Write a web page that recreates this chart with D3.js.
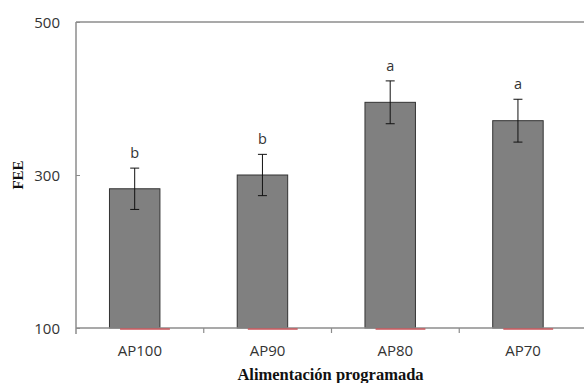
<!DOCTYPE html>
<html>
<head>
<meta charset="utf-8">
<script src="https://cdn.jsdelivr.net/npm/d3@7"></script>
<style>
  body { margin: 0; background: #fff; }
  svg { display: block; }
</style>
</head>
<body>
<div id="chart"></div>
<script>
// values
const categories = ['AP100', 'AP90', 'AP80', 'AP70'];
const fee = [282, 300, 395, 371];
const feeErr = [27, 27, 28, 28];
const letters = ['b', 'b', 'a', 'a'];
const secondSeries = [100, 100, 100, 100]; // flat red series sitting on the baseline
const yTicks = [100, 300, 500];

const state = {
    width: 584,
    height: 383,
    left: 76,
    right: 587,
    top: 22,
    bottom: 328,
    barColor: '#808080',
    edgeColor: '#333333',
    axisColor: '#8c8c8c',
    redColor: '#c8545a'
};

const svg = d3.select('#chart')
    .append('svg')
        .attr('width', state.width)
        .attr('height', state.height);

let x = d3.scaleBand()
    .domain(categories)
    .range([state.left, state.right])
    .paddingInner(0)
    .paddingOuter(0);

let y = d3.scaleLinear()
    .domain([100, 500])
    .range([state.bottom, state.top]);

const bw = x.bandwidth();

// top border
svg.append('line')
    .attr('x1', state.left).attr('x2', state.right)
    .attr('y1', y(500)).attr('y2', y(500))
    .style('stroke', state.axisColor)
    .style('stroke-width', 1.5);

// bars
svg.selectAll('.bar')
    .data(fee)
    .enter()
    .append('rect')
        .attr('class', 'bar')
        .attr('x', (d, i) => x(categories[i]) + bw * 0.262)
        .attr('width', bw * 0.395)
        .attr('y', d => y(d))
        .attr('height', d => y(100) - y(d))
        .style('fill', state.barColor)
        .style('stroke', state.edgeColor)
        .style('stroke-width', 1);

// x axis
svg.append('line')
    .attr('x1', state.left).attr('x2', state.right)
    .attr('y1', y(100)).attr('y2', y(100))
    .style('stroke', state.axisColor)
    .style('stroke-width', 1.5);

// second (zero height) series, shows only as a red line
svg.selectAll('.bar2')
    .data(secondSeries)
    .enter()
    .append('line')
        .attr('class', 'bar2')
        .attr('x1', (d, i) => x(categories[i]) + bw * 0.345)
        .attr('x2', (d, i) => x(categories[i]) + bw * 0.735)
        .attr('y1', d => y(d) + 1)
        .attr('y2', d => y(d) + 1)
        .style('stroke', state.redColor)
        .style('stroke-width', 1.6);

// error bars
let errs = svg.selectAll('.err')
    .data(fee)
    .enter()
    .append('g')
        .attr('class', 'err')
        .attr('transform', (d, i) => 'translate(' + (x(categories[i]) + bw * 0.4595) + ',0)');

errs.append('line')
    .attr('y1', (d, i) => y(d + feeErr[i]))
    .attr('y2', (d, i) => y(d - feeErr[i]))
    .style('stroke', '#111')
    .style('stroke-width', 1);

[1, -1].forEach(function(s){
    errs.append('line')
        .attr('x1', -4.5).attr('x2', 4.5)
        .attr('y1', (d, i) => y(d + s * feeErr[i]))
        .attr('y2', (d, i) => y(d + s * feeErr[i]))
        .style('stroke', '#111')
        .style('stroke-width', 1);
});

// significance letters
svg.selectAll('.letter')
    .data(fee)
    .enter()
    .append('text')
        .attr('class', 'letter')
        .attr('x', (d, i) => x(categories[i]) + bw * 0.4595)
        .attr('y', (d, i) => y(d + feeErr[i]) - 10)
        .attr('text-anchor', 'middle')
        .style('font-family', '"Open Sans", sans-serif')
        .style('font-size', '14.5px')
        .style('fill', '#333')
        .text((d, i) => letters[i]);

// y axis
let yAxis = svg.append('g')
    .attr('transform', 'translate(' + state.left + ',0)')
    .call(d3.axisRight(y).tickValues(yTicks).tickSize(4).tickFormat(d3.format('d')));
yAxis.select('.domain').style('stroke', state.axisColor).style('stroke-width', 1.5)
    .attr('d', 'M0,' + (state.bottom + 6) + 'V' + state.top);
yAxis.selectAll('.tick line').style('stroke', state.axisColor);
yAxis.selectAll('.tick text')
    .attr('x', -16)
    .attr('dy', '0.36em')
    .attr('text-anchor', 'end')
    .style('font-family', '"Open Sans", sans-serif')
    .style('font-size', '15px')
    .style('fill', '#333');

svg.selectAll('.xtick')
    .data(categories.slice(1))
    .enter()
    .append('line')
        .attr('class', 'xtick')
        .attr('x1', d => x(d)).attr('x2', d => x(d))
        .attr('y1', y(100)).attr('y2', y(100) + 5)
        .style('stroke', state.axisColor)
        .style('stroke-width', 1.2);

svg.selectAll('.xlabel')
    .data(categories)
    .enter()
    .append('text')
        .attr('class', 'xlabel')
        .attr('x', d => x(d) + bw * 0.5)
        .attr('y', 356)
        .attr('text-anchor', 'middle')
        .style('font-family', '"Open Sans", sans-serif')
        .style('font-size', '15px')
        .style('fill', '#333')
        .text(d => d);

// axis titles
svg.append('text')
    .attr('x', 330.5)
    .attr('y', 380)
    .attr('text-anchor', 'middle')
    .style('font-family', '"Liberation Serif", "Times New Roman", serif')
    .style('font-weight', 'bold')
    .style('font-size', '16.5px')
    .style('fill', '#111')
    .text('Alimentación programada');

svg.append('text')
    .attr('transform', 'translate(23,175) rotate(-90)')
    .attr('text-anchor', 'middle')
    .style('font-family', '"Liberation Serif", "Times New Roman", serif')
    .style('font-weight', 'bold')
    .style('font-size', '15px')
    .style('fill', '#111')
    .text('FEE');
</script>
</body>
</html>
